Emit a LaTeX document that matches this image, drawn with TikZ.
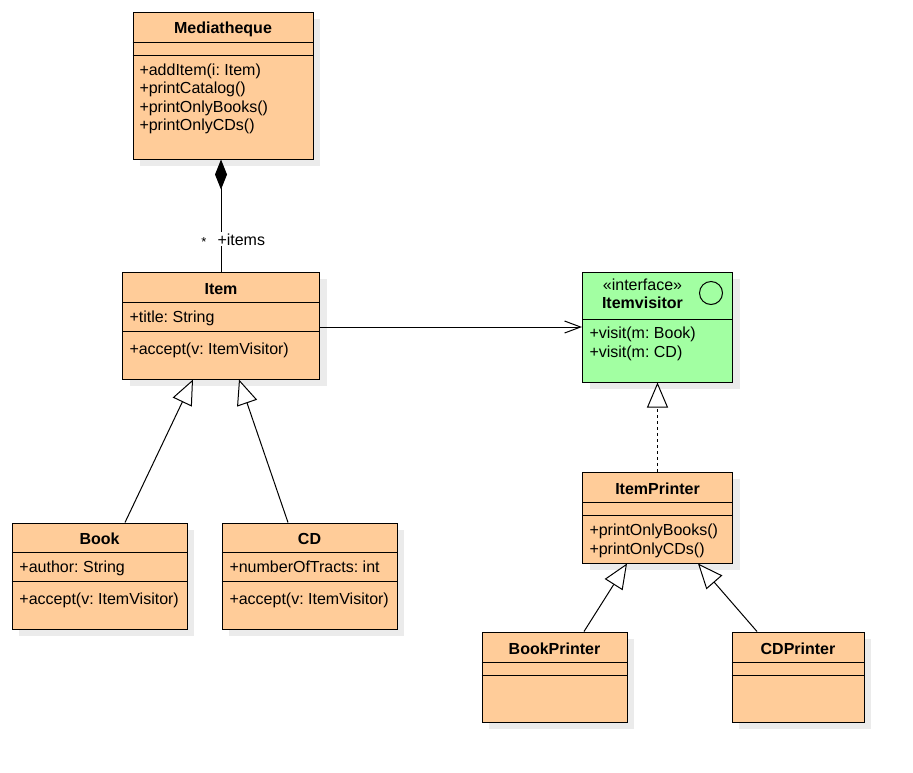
\documentclass[tikz,border=0pt]{standalone}
\usepackage{fontspec}
\setmainfont{Liberation Sans}
\usepackage{tikz}
\usetikzlibrary{arrows.meta,shadows}
\definecolor{classorange}{HTML}{FFCC99}
\definecolor{ifacegreen}{HTML}{A2FFA2}
\frenchspacing

\begin{document}
\begin{tikzpicture}[x=1pt, y=-1pt, line width=1pt,
    font=\fontsize{16pt}{19pt}\selectfont,
    umlclass/.style={draw, fill=classorange, inner sep=0pt,
      drop shadow={shadow xshift=7pt, shadow yshift=-7pt, fill=black!8, opacity=1}},
    clsname/.style={anchor=base, inner sep=0pt, font=\fontsize{16pt}{19pt}\selectfont\bfseries},
    member/.style={anchor=base west, inner sep=0pt},
    gen/.style={-{Triangle[fill=white, length=25pt, width=21pt]}},
    real/.style={gen, dash pattern=on 3pt off 3pt},
    assoc/.style={-{Straight Barb[length=16pt, width=12pt]}},
    comp/.style={{Diamond[length=30pt, width=12pt]}-}]
    \useasboundingbox (0,0) rectangle (913,772);

    % classes
    \node[umlclass, minimum width=180, minimum height=147] (med) at (223, 85.5) {};
    \node[umlclass, minimum width=197, minimum height=107] (item) at (221, 325.5) {};
    \node[umlclass, fill=ifacegreen, minimum width=150, minimum height=110] (ivisitor) at (657.5, 327) {};
    \node[umlclass, minimum width=150, minimum height=91] (iprinter) at (657.5, 517.5) {};
    \node[umlclass, minimum width=175, minimum height=106] (book) at (99.5, 576) {};
    \node[umlclass, minimum width=175, minimum height=106] (cd) at (309.5, 576) {};
    \node[umlclass, minimum width=145, minimum height=90] (bprinter) at (554.5, 677) {};
    \node[umlclass, minimum width=132, minimum height=90] (cprinter) at (798, 677) {};

    % compartments
    \draw ([yshift=-31pt]med.north west) -- ([yshift=-31pt]med.north east);
    \draw ([yshift=-44pt]med.north west) -- ([yshift=-44pt]med.north east);
    \draw ([yshift=-31pt]item.north west) -- ([yshift=-31pt]item.north east);
    \draw ([yshift=-60pt]item.north west) -- ([yshift=-60pt]item.north east);
    \draw ([yshift=-48pt]ivisitor.north west) -- ([yshift=-48pt]ivisitor.north east);
    \draw ([yshift=-31pt]iprinter.north west) -- ([yshift=-31pt]iprinter.north east);
    \draw ([yshift=-44pt]iprinter.north west) -- ([yshift=-44pt]iprinter.north east);
    \draw ([yshift=-30pt]book.north west) -- ([yshift=-30pt]book.north east);
    \draw ([yshift=-59pt]book.north west) -- ([yshift=-59pt]book.north east);
    \draw ([yshift=-30pt]cd.north west) -- ([yshift=-30pt]cd.north east);
    \draw ([yshift=-59pt]cd.north west) -- ([yshift=-59pt]cd.north east);
    \draw ([yshift=-31pt]bprinter.north west) -- ([yshift=-31pt]bprinter.north east);
    \draw ([yshift=-44pt]bprinter.north west) -- ([yshift=-44pt]bprinter.north east);
    \draw ([yshift=-31pt]cprinter.north west) -- ([yshift=-31pt]cprinter.north east);
    \draw ([yshift=-44pt]cprinter.north west) -- ([yshift=-44pt]cprinter.north east);

    % texts
    \node[clsname] (med-name) at (223, 33.5) {Mediatheque};
    \node[member] (med-m1) at (139, 75) {+addItem(i: Item)};
    \node[member] (med-m2) at (139, 93.5) {+printCatalog()};
    \node[member] (med-m3) at (139, 112) {+printOnlyBooks()};
    \node[member] (med-m4) at (139, 130.5) {+printOnlyCDs()};

    \node[clsname] (item-name) at (221, 294) {Item};
    \node[member] (item-a1) at (129, 322.5) {+title: String};
    \node[member] (item-m1) at (129, 354) {+accept(v: ItemVisitor)};

    \node[anchor=base, inner sep=0pt] (ivisitor-st) at (642.5, 290) {«interface»};
    \node[clsname] (ivisitor-name) at (642.5, 308.5) {Itemvisitor};
    \node[draw, circle, minimum size=23pt, inner sep=0pt] (ivisitor-icon) at (711, 293) {};
    \node[member] (ivisitor-m1) at (589, 338.5) {+visit(m: Book)};
    \node[member] (ivisitor-m2) at (589, 357) {+visit(m: CD)};

    \node[clsname] (iprinter-name) at (657.5, 494) {ItemPrinter};
    \node[member] (iprinter-m1) at (589, 535) {+printOnlyBooks()};
    \node[member] (iprinter-m2) at (589, 554) {+printOnlyCDs()};

    \node[clsname] (book-name) at (99.5, 544.5) {Book};
    \node[member] (book-a1) at (19, 572.5) {+author: String};
    \node[member] (book-m1) at (19, 604) {+accept(v: ItemVisitor)};

    \node[clsname] (cd-name) at (309.5, 544.5) {CD};
    \node[member] (cd-a1) at (229, 572.5) {+numberOfTracts: int};
    \node[member] (cd-m1) at (229, 604) {+accept(v: ItemVisitor)};

    \node[clsname] (bprinter-name) at (554.5, 654) {BookPrinter};
    \node[clsname] (cprinter-name) at (798, 654) {CDPrinter};

    % relations
    \draw[comp] (item.north |- med.south) -- (item.north);
    \node[font=\fontsize{13pt}{15pt}\selectfont, inner sep=0pt] (items-mult) at (204, 242) {*};
    \node[member, fill=white, inner sep=1pt] (items-role) at (216, 245) {+items};
    \draw[assoc] (item.east |- ivisitor.west) -- (ivisitor.west);
    \draw[gen] ([xshift=25.5pt]book.north) -- ([xshift=-28pt]item.south);
    \draw[gen] ([xshift=-21.5pt]cd.north) -- ([xshift=18pt]item.south);
    \draw[real] (iprinter.north) -- (ivisitor.south);
    \draw[gen] ([xshift=29.5pt]bprinter.north) -- ([xshift=-30.5pt]iprinter.south);
    \draw[gen] ([xshift=-41pt]cprinter.north) -- ([xshift=40.5pt]iprinter.south);
\end{tikzpicture}
\end{document}
